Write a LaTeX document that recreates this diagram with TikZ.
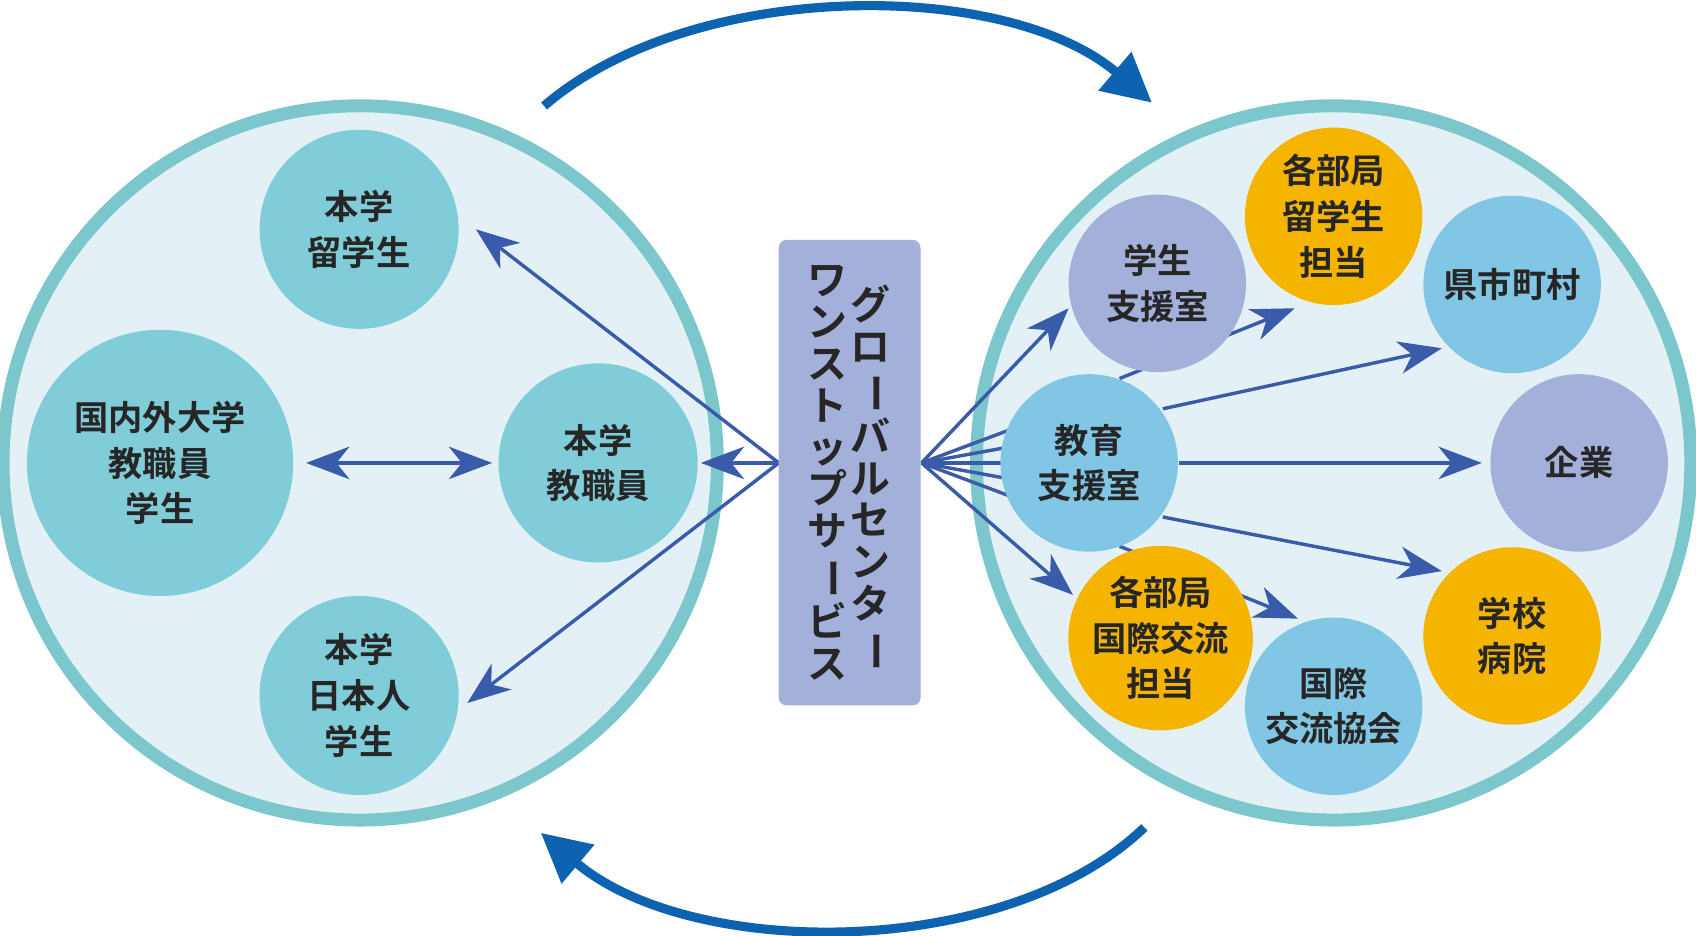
\documentclass[tikz,border=0pt]{standalone}
\usepackage{fontspec}
\usepackage{graphicx}
\setmainfont{Noto Sans CJK JP}[BoldFont={* Bold}]
\usetikzlibrary{arrows.meta}
\definecolor{ring}{HTML}{7CC7CB}
\definecolor{bgin}{HTML}{E3F1F7}
\definecolor{teal}{HTML}{80CCD9}
\definecolor{lav}{HTML}{A3B0DA}
\definecolor{sky}{HTML}{82C6E6}
\definecolor{ora}{HTML}{F5B400}
\definecolor{arr}{HTML}{3A5BAA}
\definecolor{big}{HTML}{0E63B0}
\newcommand{\vb}{\rotatebox[origin=c]{-90}{ー}}
\begin{document}
\begin{tikzpicture}[x=0.01cm,y=-0.01cm,
 bigc/.style={circle,draw=ring,line width=3.4pt,fill=bgin,minimum size=6.6cm,inner sep=0},
 c/.style={circle,minimum size=#1,inner sep=0,align=center,font=\bfseries\fontsize{9}{12}\selectfont,text=black!85},
 arrow/.style={draw=arr,line width=0.9pt,-{Stealth[length=0.4cm,width=0.3cm,inset=0.12cm]}},
 plain/.style={draw=arr,line width=0.9pt},
 bigarr/.style={draw=big,line width=2.4pt,-{Triangle[length=0.45cm,width=0.45cm]}}]
\useasboundingbox (0,0) rectangle (1568,865);
\node[bigc] (L) at (333,428) {};
\node[bigc] (R) at (1233,428) {};
% arcs
\coordinate (t1) at (503,98); \coordinate (t2) at (1065,95);
\coordinate (b1) at (1058,765); \coordinate (b2) at (500,770);
\draw[bigarr] (t1) .. controls (640,-20) and (930,-20) .. (t2);
\draw[bigarr] (b1) .. controls (930,888) and (640,888) .. (b2);
% left
\coordinate (BL) at (720,428);
\coordinate (BR) at (852,428);
\coordinate (a1) at (440,212); \coordinate (a2) at (648,428); \coordinate (a3) at (432,650);
\coordinate (d1) at (283,428); \coordinate (d2) at (455,428);
\draw[arrow] (BL) -- (a1);
\draw[arrow] (BL) -- (a2);
\draw[arrow] (BL) -- (a3);
% right fan
\coordinate (r1) at (988,285); \coordinate (r2) at (992,550);
\draw[arrow] (BR) -- (r1);
\draw[arrow] (BR) -- (r2);
\foreach \yy in {395,412,428,444,461} \draw[plain] (BR) -- (940,\yy);
% from education support
\coordinate (e1) at (1035,350); \coordinate (f1) at (1197,285);
\coordinate (e2) at (1035,505); \coordinate (f2) at (1200,572);
\coordinate (e3) at (1075,378); \coordinate (f3) at (1333,322);
\coordinate (e4) at (1090,428); \coordinate (f4) at (1370,428);
\coordinate (e5) at (1075,478); \coordinate (f5) at (1333,528);
\draw[arrow] (e1) -- (f1);
\draw[arrow] (e2) -- (f2);
% nodes
\node[c=1.84cm,fill=teal] (n1) at (332,212) {本学\\留学生};
\node[c=2.46cm,fill=teal] (n2) at (148,428) {国内外大学\\教職員\\学生};
\node[c=1.84cm,fill=teal] (n3) at (553,428) {本学\\教職員};
\node[c=1.84cm,fill=teal] (n4) at (332,643) {本学\\日本人\\学生};
\draw[arrow,{Stealth[length=0.4cm,width=0.3cm,inset=0.12cm]}-{Stealth[length=0.4cm,width=0.3cm,inset=0.12cm]}] (d1) -- (d2);
\node[c=1.64cm,fill=lav] (m1) at (1070,262) {学生\\支援室};
\node[c=1.64cm,fill=ora] (m2) at (1233,200) {各部局\\留学生\\担当};
\node[c=1.64cm,fill=sky] (m3) at (1398,263) {県市町村};
\node[c=1.64cm,fill=lav] (m5) at (1460,428) {企業};
\node[c=1.64cm,fill=ora] (m6) at (1073,590) {各部局\\国際交流\\担当};
\node[c=1.64cm,fill=sky] (m7) at (1233,653) {国際\\交流協会};
\node[c=1.64cm,fill=ora] (m8) at (1398,588) {学校\\病院};
\node[c=1.64cm,fill=sky] (m4) at (1007,428) {教育\\支援室};
\draw[arrow] (e3) -- (f3);
\draw[arrow] (e4) -- (f4);
\draw[arrow] (e5) -- (f5);
% center box
\node[fill=lav,rounded corners=2pt,minimum width=1.31cm,minimum height=4.3cm,inner sep=0] (box) at (785.5,437) {};
\node[align=center,inner sep=0,font=\bfseries\fontsize{10.5}{11}\selectfont,text=black!85] (v1) at (805,442)
 {グ\\ロ\\\vb\\バ\\ル\\セ\\ン\\タ\\\vb};
\node[align=center,inner sep=0,font=\bfseries\fontsize{10.5}{11}\selectfont,text=black!85] (v2) at (765,437)
 {ワ\\ン\\ス\\ト\\ッ\\プ\\サ\\\vb\\ビ\\ス};
\end{tikzpicture}
\end{document}
